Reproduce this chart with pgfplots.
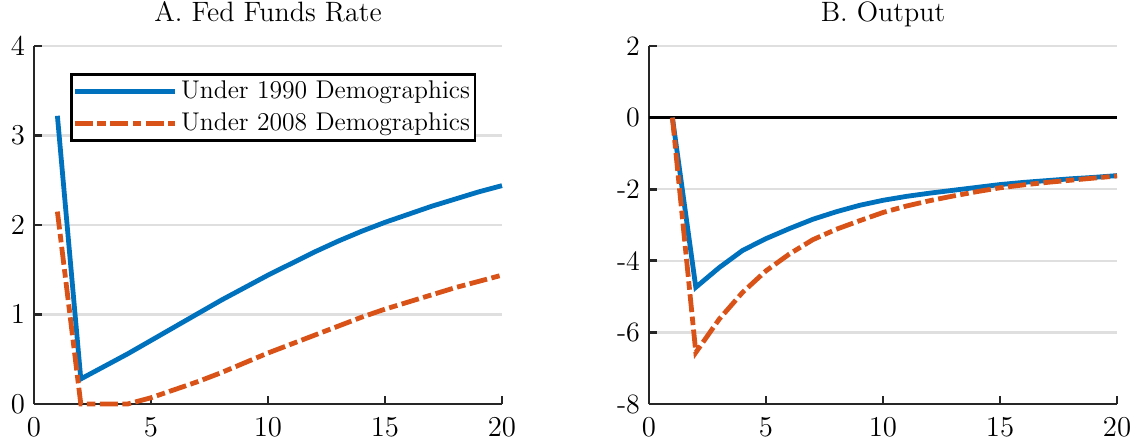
\documentclass[border=0pt]{standalone}
\usepackage{pgfplots}
\pgfplotsset{compat=1.18}
\definecolor{mblue}{RGB}{0,114,189}
\definecolor{morange}{RGB}{217,83,25}
\definecolor{gridgray}{RGB}{223,223,223}
\definecolor{axgray}{RGB}{38,38,38}
\pgfplotstableread{
x y1990 y2008
1 3.22 2.15
2 0.28 0.00
3 0.42 0.00
4 0.56 0.00
5 0.71 0.07
6 0.86 0.16
7 1.01 0.25
8 1.16 0.35
9 1.30 0.46
10 1.44 0.57
11 1.57 0.67
12 1.70 0.77
13 1.82 0.87
14 1.93 0.97
15 2.03 1.06
16 2.12 1.14
17 2.21 1.22
18 2.29 1.30
19 2.37 1.37
20 2.44 1.44
}\ffr
\pgfplotstableread{
x y1990 y2008
1 0.00 0.00
2 -4.74 -6.56
3 -4.19 -5.63
4 -3.71 -4.88
5 -3.38 -4.28
6 -3.10 -3.81
7 -2.84 -3.41
8 -2.63 -3.12
9 -2.45 -2.88
10 -2.31 -2.65
11 -2.20 -2.47
12 -2.11 -2.32
13 -2.03 -2.19
14 -1.95 -2.07
15 -1.87 -1.96
16 -1.81 -1.88
17 -1.76 -1.81
18 -1.71 -1.75
19 -1.67 -1.69
20 -1.62 -1.63
}\outp
\pgfplotsset{
  mystyle/.style={
    scale only axis, width=234pt, height=179pt,
    anchor=south west,
    xmin=0, xmax=20, xtick={0,5,10,15,20},
    axis x line*=bottom, axis y line*=left,
    axis line style={line width=1.35pt, color=axgray, -},
    tick align=inside, major tick length=4pt,
    every tick/.style={line width=1.35pt, color=axgray},
    ymajorgrids, grid style={line width=1.1pt, color=gridgray},
    font=\fontsize{14}{16}\selectfont,
    tick label style={font=\fontsize{14}{16}\selectfont},
    title style={font=\fontsize{14}{16}\selectfont, at={(0.5,1)}, anchor=base, yshift=6.5pt},
    clip=false,
    xticklabel style={anchor=base, yshift=-16.3pt},
    yticklabel style={xshift=-1pt},
  },
  s1990/.style={color=mblue, line width=2.4pt},
  s2008/.style={color=morange, line width=2.4pt, dash pattern=on 9pt off 2.25pt on 4.25pt off 2.25pt},
}
\begin{document}
\begin{tikzpicture}
\begin{axis}[mystyle, at={(0pt,0pt)},
  title={A. Fed Funds Rate},
  ymin=0, ymax=4, ytick={0,1,2,3,4},
  legend style={at={(0.077,0.925)}, anchor=north west, draw=black, line width=1.35pt,
    font=\fontsize{12.8}{15}\selectfont, inner xsep=0.5pt, inner ysep=1.5pt, row sep=1.5pt},
  legend cell align=left,
  legend image code/.code={\draw[#1] (0pt,0pt) -- (50pt,0pt);},
]
\addplot[s1990] table[x=x,y=y1990] {\ffr};
\addlegendentry{Under 1990 Demographics}
\addplot[s2008] table[x=x,y=y2008] {\ffr};
\addlegendentry{Under 2008 Demographics}
\end{axis}
\begin{axis}[mystyle, at={(307.5pt,0pt)},
  title={B. Output},
  ymin=-8, ymax=2, ytick={-8,-6,-4,-2,0,2},
  yticklabels={-8,-6,-4,-2,0,2},
]
\addplot[black, line width=1.5pt] coordinates {(0,0) (20,0)};
\addplot[s1990] table[x=x,y=y1990] {\outp};
\addplot[s2008] table[x=x,y=y2008] {\outp};
\end{axis}
\pgfresetboundingbox
\path[use as bounding box] (-17pt,-18.5pt) rectangle (549.5pt,202pt);
\end{tikzpicture}
\end{document}
